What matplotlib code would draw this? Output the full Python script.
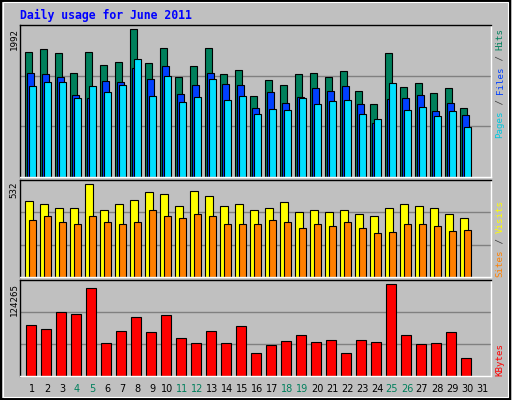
import matplotlib
matplotlib.use("Agg")
import matplotlib.pyplot as plt
import numpy as np
from matplotlib.patches import Rectangle

days = list(range(1, 32))
hits = [1640,1680,1627,1363,1640,1469,1508,1943,1495,1693,1310,1455,1693,1350,1403,1060,1271,1205,1350,1363,1310,1389,1126,954,1627,1178,1231,1099,1165,901]
files = [1363,1350,1310,1073,1033,1258,1244,1429,1284,1455,1086,1205,1363,1218,1205,901,1112,967,1046,1165,1126,1192,954,704,1020,1033,1073,862,967,809]
pages = [1192,1244,1244,1033,1192,1112,1205,1548,1060,1323,981,1046,1284,1007,1060,822,888,875,1033,954,994,1007,822,756,1231,875,915,796,862,651]
visits = [415,398,376,376,508,370,398,425,464,453,387,470,442,387,403,365,376,409,354,370,354,370,348,332,381,398,392,381,343,321]
sites = [315,337,299,288,332,304,293,304,370,332,321,343,332,293,288,288,315,304,271,288,277,304,271,244,249,293,288,282,255,260]
kbytes = [65610,60396,82555,79948,113839,42147,57789,76038,56485,78645,48664,42147,57789,42147,64306,30415,39540,44754,52575,43450,46057,30415,46057,43450,119053,52575,40843,42147,56485,23898]
weekend = [4,5,11,12,18,19,25,26]
max_hits, max_visits, max_kb = 1992, 532, 124265
title = "Daily usage for June 2011"

BG = "#C0C0C0"
fig = plt.figure(figsize=(5.12, 4.0), dpi=100, facecolor=BG)
fig.patches.append(Rectangle((0.002, 0.003), 0.994, 0.994, transform=fig.transFigure,
                             fill=False, edgecolor="black", lw=1.5))
fig.patches.append(Rectangle((0.006, 0.008), 0.987, 0.986, transform=fig.transFigure,
                             fill=False, edgecolor="white", lw=0.8))

L, W = 20/512, 471/512
def mkax(top, bot, ymax):
    ax = fig.add_axes([L, (400-bot)/400, W, (bot-top)/400])
    ax.set_facecolor(BG)
    ax.set_xlim(0.267, 31.667)
    ax.set_ylim(0, ymax)
    for y in (ymax/3, 2*ymax/3):
        ax.axhline(y, color="#808080", lw=1, zorder=0)
    ax.set_xticks([]); ax.set_yticks([])
    for s in ("left", "top"):
        ax.spines[s].set_color("black")
    for s in ("right", "bottom"):
        ax.spines[s].set_color("white")
    for s in ax.spines.values():
        s.set_linewidth(1)
    return ax

n = len(hits)
x = np.array(days[:n], dtype=float)
ek = dict(edgecolor="black", linewidth=0.8, align="edge")
w = 7/15

ax1 = mkax(25, 177, max_hits)
ax1.bar(x-0.38, hits, w, color="#00805C", **ek)
ax1.bar(x-0.247, files, w, color="#0040FF", **ek)
ax1.bar(x-0.113, pages, w, color="#00E0FF", **ek)

ax2 = mkax(180, 277, max_visits)
ax2.bar(x-0.38, visits, 8/15, color="#FFFF00", **ek)
ax2.bar(x-0.113, sites, w, color="#FF8000", **ek)

ax3 = mkax(280, 376, max_kb)
ax3.bar(x-0.313, kbytes, 10/15, color="#FF0000", **ek)

mono = "DejaVu Sans Mono"
fig.text(20/512, 1-15/400, title, color="#0000FF", fontsize=8.3, fontweight="bold",
         family=mono, va="center", ha="left")

fs = 6.6
adv = 0.602*fs*100/72
def vlabel(xpx, ybot_px, segs):
    y = ybot_px
    for txt, col in segs:
        fig.text(xpx/512, 1-y/400, txt, color=col, rotation=90, fontsize=fs, family=mono,
                 ha="center", va="bottom")
        y -= adv*len(txt)

vlabel(500, 138, [("Pages", "#00C8E0"), (" / ", "#404040"), ("Files", "#0040FF"),
                  (" / ", "#404040"), ("Hits", "#00805C")])
vlabel(500, 277, [("Sites", "#FF8000"), (" / ", "#404040"), ("Visits", "#FFFF00")])
vlabel(500, 376, [("KBytes", "#FF0000")])

for lab, ytop in ((str(max_hits), 28), (str(max_visits), 181), (str(max_kb), 283)):
    fig.text(14/512, 1-ytop/400, lab, rotation=90, fontsize=fs, family=mono,
             ha="center", va="top", color="black")

for d in days:
    cx = 20 + (d-1)*15 + 12
    fig.text(cx/512, 1-389/400, str(d), fontsize=7, ha="center", va="center",
             color="#00805C" if d in weekend else "black")

fig.savefig("out.png", dpi=100, facecolor=BG)
